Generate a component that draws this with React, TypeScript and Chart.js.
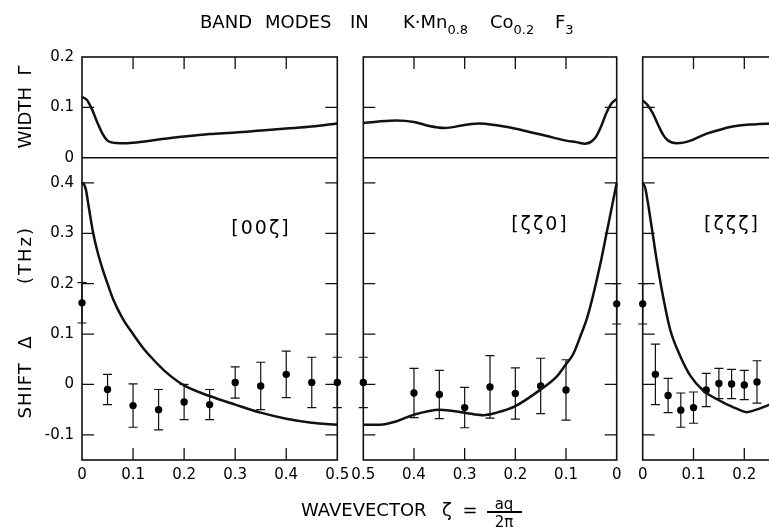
import React, { useEffect, useRef } from 'react';
import { Chart, registerables } from 'chart.js';
Chart.register(...registerables);

// ---------- DATA ----------
// common tick values
const xTickVals = [0, 0.1, 0.2, 0.3, 0.4, 0.5];
const xTickMarks = [0.1, 0.2, 0.3, 0.4];
const widthTickVals = [0, 0.1, 0.2];
const widthTickMarks = [0.1];
const shiftTickVals = [-0.1, 0, 0.1, 0.2, 0.3, 0.4];

// Panel 1 [00ζ]
const p1WidthX = [0, 0.01, 0.02, 0.03, 0.04, 0.05, 0.06, 0.075, 0.1, 0.15, 0.2, 0.25, 0.3, 0.35, 0.4, 0.45, 0.5];
const p1WidthY = [0.121, 0.114, 0.095, 0.07, 0.048, 0.034, 0.03, 0.029, 0.03, 0.036, 0.042, 0.047, 0.05, 0.054, 0.058, 0.062, 0.068];
const p1ShiftX = [0, 0.004, 0.008, 0.012, 0.016, 0.022, 0.03, 0.04, 0.05, 0.061, 0.08, 0.1, 0.12, 0.14, 0.165, 0.2, 0.25, 0.3, 0.35, 0.4, 0.45, 0.5];
const p1ShiftY = [0.4, 0.397, 0.385, 0.36, 0.335, 0.3, 0.265, 0.23, 0.2, 0.169, 0.13, 0.1, 0.072, 0.049, 0.024, -0.002, -0.023, -0.04, -0.056, -0.068, -0.076, -0.08];
const p1PtX = [0, 0.05, 0.1, 0.15, 0.2, 0.25, 0.3, 0.35, 0.4, 0.45, 0.5];
const p1PtY = [0.162, -0.01, -0.042, -0.05, -0.035, -0.04, 0.004, -0.003, 0.02, 0.004, 0.004];
const p1PtErr = [0.04, 0.03, 0.043, 0.04, 0.035, 0.03, 0.031, 0.047, 0.046, 0.05, 0.05];

// Panel 2 [ζζ0] (axis runs 0.5 -> 0)
const p2WidthX = [0, 0.01, 0.02, 0.03, 0.04, 0.05, 0.063, 0.08, 0.1, 0.125, 0.15, 0.18, 0.21, 0.24, 0.27, 0.3, 0.34, 0.37, 0.4, 0.434, 0.47, 0.5];
const p2WidthY = [0.117, 0.108, 0.09, 0.064, 0.043, 0.032, 0.028, 0.031, 0.034, 0.04, 0.046, 0.053, 0.06, 0.065, 0.068, 0.065, 0.059, 0.063, 0.071, 0.074, 0.072, 0.069];
const p2ShiftX = [0, 0.01, 0.02, 0.03, 0.04, 0.05, 0.06, 0.07, 0.086, 0.1, 0.118, 0.15, 0.2, 0.237, 0.263, 0.3, 0.35, 0.4, 0.434, 0.467, 0.5];
const p2ShiftY = [0.4, 0.35, 0.3, 0.25, 0.205, 0.163, 0.127, 0.1, 0.06, 0.04, 0.016, -0.01, -0.043, -0.056, -0.061, -0.056, -0.05, -0.06, -0.073, -0.08, -0.08];
const p2PtX = [0.5, 0.4, 0.35, 0.3, 0.25, 0.2, 0.15, 0.1, 0];
const p2PtY = [0.004, -0.017, -0.02, -0.046, -0.005, -0.018, -0.003, -0.011, 0.16];
const p2PtErr = [0.05, 0.049, 0.048, 0.04, 0.062, 0.051, 0.055, 0.06, 0.04];

// Panel 3 [ζζζ]
const p3WidthX = [0, 0.01, 0.02, 0.03, 0.04, 0.05, 0.067, 0.08, 0.094, 0.11, 0.126, 0.15, 0.172, 0.19, 0.211, 0.23, 0.25];
const p3WidthY = [0.114, 0.104, 0.088, 0.066, 0.046, 0.034, 0.029, 0.03, 0.034, 0.041, 0.048, 0.055, 0.061, 0.064, 0.066, 0.067, 0.068];
const p3ShiftX = [0, 0.005, 0.01, 0.018, 0.027, 0.04, 0.054, 0.074, 0.094, 0.12, 0.14, 0.159, 0.185, 0.205, 0.224, 0.25];
const p3ShiftY = [0.4, 0.39, 0.362, 0.31, 0.25, 0.175, 0.109, 0.056, 0.017, -0.013, -0.026, -0.036, -0.048, -0.055, -0.05, -0.04];
const p3PtX = [0, 0.025, 0.05, 0.075, 0.1, 0.125, 0.15, 0.175, 0.2, 0.225];
const p3PtY = [0.16, 0.02, -0.022, -0.051, -0.046, -0.011, 0.002, 0.001, -0.001, 0.005];
const p3PtErr = [0.04, 0.06, 0.034, 0.034, 0.031, 0.033, 0.03, 0.029, 0.029, 0.042];

// ---------- STYLE ----------
const FONT = '"DejaVu Sans", "Liberation Sans", sans-serif';
const INK = '#111';
const TICK_LEN = 12;
const TICK_FONT = { family: FONT, size: 15 };

const fmt = (v: number) => (Math.abs(v) < 1e-9 ? '0' : String(Math.round(v * 10) / 10));
const pts = (xs: number[], ys: number[]) => xs.map((x, i) => ({ x, y: ys[i] }));

const framePlugin = {
  id: 'frame',
  beforeDatasetsDraw(chart: any) {
    const ctx = chart.ctx;
    const xs = chart.scales.x, yW = chart.scales.yW, yS = chart.scales.yS;
    const L = chart.chartArea.left, R = chart.chartArea.right;
    const T = yW.top, M = yW.bottom, B = yS.bottom;
    ctx.save();
    ctx.strokeStyle = INK;
    ctx.lineWidth = 1.6;
    ctx.strokeRect(L, T, R - L, B - T);
    ctx.lineWidth = 1.3;
    ctx.beginPath();
    ctx.moveTo(L, M); ctx.lineTo(R, M);
    xTickMarks.forEach(v => {
      const px = xs.getPixelForValue(v);
      ctx.moveTo(px, T); ctx.lineTo(px, T + TICK_LEN);
      ctx.moveTo(px, B); ctx.lineTo(px, B - TICK_LEN);
    });
    widthTickMarks.forEach(v => {
      const py = yW.getPixelForValue(v);
      ctx.moveTo(L, py); ctx.lineTo(L + TICK_LEN, py);
      ctx.moveTo(R, py); ctx.lineTo(R - TICK_LEN, py);
    });
    shiftTickVals.forEach(v => {
      const py = yS.getPixelForValue(v);
      ctx.moveTo(L, py); ctx.lineTo(L + TICK_LEN, py);
      ctx.moveTo(R, py); ctx.lineTo(R - TICK_LEN, py);
    });
    ctx.stroke();
    ctx.restore();
  },
};

const errorBarPlugin = {
  id: 'errbars',
  beforeDatasetsDraw(chart: any) {
    const ctx = chart.ctx;
    chart.data.datasets.forEach((ds: any) => {
      if (!ds.errors) return;
      const xs = chart.scales.x, ys = chart.scales[ds.yAxisID];
      ctx.save();
      ctx.strokeStyle = INK;
      ctx.lineWidth = 1.2;
      ctx.beginPath();
      ds.data.forEach((d: any, j: number) => {
        const e = ds.errors[j];
        const px = xs.getPixelForValue(d.x);
        const top = ys.getPixelForValue(d.y + e);
        const bot = ys.getPixelForValue(d.y - e);
        ctx.moveTo(px, top); ctx.lineTo(px, bot);
        ctx.moveTo(px - 4.5, top); ctx.lineTo(px + 4.5, top);
        ctx.moveTo(px - 4.5, bot); ctx.lineTo(px + 4.5, bot);
      });
      ctx.stroke();
      ctx.restore();
    });
  },
};

type Panel = {
  wX: number[]; wY: number[]; sX: number[]; sY: number[];
  pX: number[]; pY: number[]; pE: number[];
  reverse: boolean; padL: number; padR: number; showY: boolean;
};

function yScale(show: boolean, min: number, max: number, sw: number, weight: number, vals: number[]) {
  return {
    type: 'linear', position: 'left', stack: 'col', stackWeight: sw, weight,
    min, max,
    grid: { display: false, drawTicks: false },
    border: { display: false },
    ticks: { display: show, padding: 8, autoSkip: false, color: '#000', font: TICK_FONT, callback: (v: any) => fmt(Number(v)) },
    afterBuildTicks: (s: any) => { s.ticks = vals.map(v => ({ value: v })); },
    afterFit: (s: any) => { s.width = show ? 82 : 0; s.paddingTop = 0; s.paddingBottom = 0; },
  };
}

function buildConfig(p: Panel): any {
  const line = { showLine: true, pointRadius: 0, borderColor: INK, borderWidth: 2.5, cubicInterpolationMode: 'monotone', clip: false };
  return {
    type: 'scatter',
    data: {
      datasets: [
        { ...line, data: pts(p.wX, p.wY), yAxisID: 'yW' },
        { ...line, data: pts(p.sX, p.sY), yAxisID: 'yS' },
        { data: pts(p.pX, p.pY), errors: p.pE, yAxisID: 'yS', pointRadius: 3.7, backgroundColor: '#000', borderColor: '#000', pointBorderWidth: 0, clip: false },
      ],
    },
    options: {
      responsive: false,
      animation: false,
      events: [],
      layout: { padding: { left: p.padL, right: p.padR, top: 57, bottom: 0 } },
      plugins: { legend: { display: false }, tooltip: { enabled: false }, title: { display: false } },
      scales: {
        x: {
          type: 'linear', position: 'bottom', min: 0, max: 0.5, reverse: p.reverse,
          grid: { display: false, drawTicks: false },
          border: { display: false },
          ticks: { padding: 6, autoSkip: false, maxRotation: 0, color: '#000', font: TICK_FONT, callback: (v: any) => fmt(Number(v)) },
          afterBuildTicks: (s: any) => { s.ticks = xTickVals.map(v => ({ value: v })); },
          afterFit: (s: any) => { s.height = 67; s.paddingLeft = 0; s.paddingRight = 0; },
        },
        yS: yScale(p.showY, -0.15, 0.45, 3, 0, shiftTickVals),
        yW: yScale(p.showY, 0, 0.2, 1, 1, widthTickVals),
      },
    },
    plugins: [framePlugin, errorBarPlugin],
  };
}

const panels: Panel[] = [
  { wX: p1WidthX, wY: p1WidthY, sX: p1ShiftX, sY: p1ShiftY, pX: p1PtX, pY: p1PtY, pE: p1PtErr, reverse: false, padL: 0, padR: 769 - 337.3, showY: true },
  { wX: p2WidthX, wY: p2WidthY, sX: p2ShiftX, sY: p2ShiftY, pX: p2PtX, pY: p2PtY, pE: p2PtErr, reverse: true, padL: 363.3, padR: 769 - 616.7, showY: false },
  { wX: p3WidthX, wY: p3WidthY, sX: p3ShiftX, sY: p3ShiftY, pX: p3PtX, pY: p3PtY, pE: p3PtErr, reverse: false, padL: 642.7, padR: 1100 - 896.7, showY: false },
];

function Txt(props: { x: number; y: number; size?: number; center?: boolean; rotate?: boolean; ls?: number; children: any }) {
  const { x, y, size = 18, center, rotate, ls = 0, children } = props;
  let tf = 'translateY(-50%)';
  if (center) tf = 'translate(-50%, -50%)';
  if (rotate) tf = 'translate(-50%, -50%) rotate(-90deg)';
  return (
    <div style={{ position: 'absolute', left: x, top: y, transform: tf, fontFamily: FONT, fontSize: size, lineHeight: 1, whiteSpace: 'nowrap', color: '#000', letterSpacing: ls }}>
      {children}
    </div>
  );
}

const subStyle: any = { fontSize: 13, position: 'relative', top: 6 };

export default function App() {
  const r1 = useRef<HTMLCanvasElement>(null);
  const r2 = useRef<HTMLCanvasElement>(null);
  const r3 = useRef<HTMLCanvasElement>(null);
  useEffect(() => {
    const refs = [r1, r2, r3];
    const charts = panels.map((p, i) => new Chart(refs[i].current as HTMLCanvasElement, buildConfig(p)));
    return () => charts.forEach(c => c.destroy());
  }, []);
  return (
    <div style={{ position: 'fixed', left: 0, top: 0, width: 769, height: 527, overflow: 'hidden', background: '#fff' }}>
      <canvas ref={r1} width={769} height={527} style={{ position: 'absolute', left: 0, top: 0 }} />
      <canvas ref={r2} width={769} height={527} style={{ position: 'absolute', left: 0, top: 0 }} />
      <canvas ref={r3} width={1100} height={527} style={{ position: 'absolute', left: 0, top: 0 }} />

      {/* title */}
      <Txt x={200} y={22} size={18}>BAND</Txt>
      <Txt x={265} y={22} size={18}>MODES</Txt>
      <Txt x={350} y={22} size={18}>IN</Txt>
      <Txt x={403} y={22} size={18}>K·Mn<span style={subStyle}>0.8</span></Txt>
      <Txt x={490} y={22} size={18}>Co<span style={subStyle}>0.2</span></Txt>
      <Txt x={555} y={22} size={18}>F<span style={subStyle}>3</span></Txt>

      {/* y axis labels */}
      <Txt x={25} y={107} rotate>WIDTH&nbsp;&nbsp;Γ</Txt>
      <Txt x={25} y={255} rotate ls={2}>(THz)</Txt>
      <Txt x={25} y={377} rotate ls={1}>SHIFT&nbsp;&nbsp;Δ</Txt>

      {/* panel labels */}
      <Txt x={261} y={227} center size={19} ls={2}>[00ζ]</Txt>
      <Txt x={540} y={223} center size={19} ls={2}>[ζζ0]</Txt>
      <Txt x={732} y={223} center size={19} ls={2}>[ζζζ]</Txt>

      {/* x axis label */}
      <Txt x={301} y={510}>WAVEVECTOR</Txt>
      <Txt x={447} y={510} center>ζ</Txt>
      <Txt x={470} y={510} center>=</Txt>
      <Txt x={504} y={504} center size={15}>aq</Txt>
      <div style={{ position: 'absolute', left: 487, top: 511, width: 35, height: 1.5, background: '#000' }} />
      <Txt x={504} y={522} center size={15}>2π</Txt>
    </div>
  );
}
